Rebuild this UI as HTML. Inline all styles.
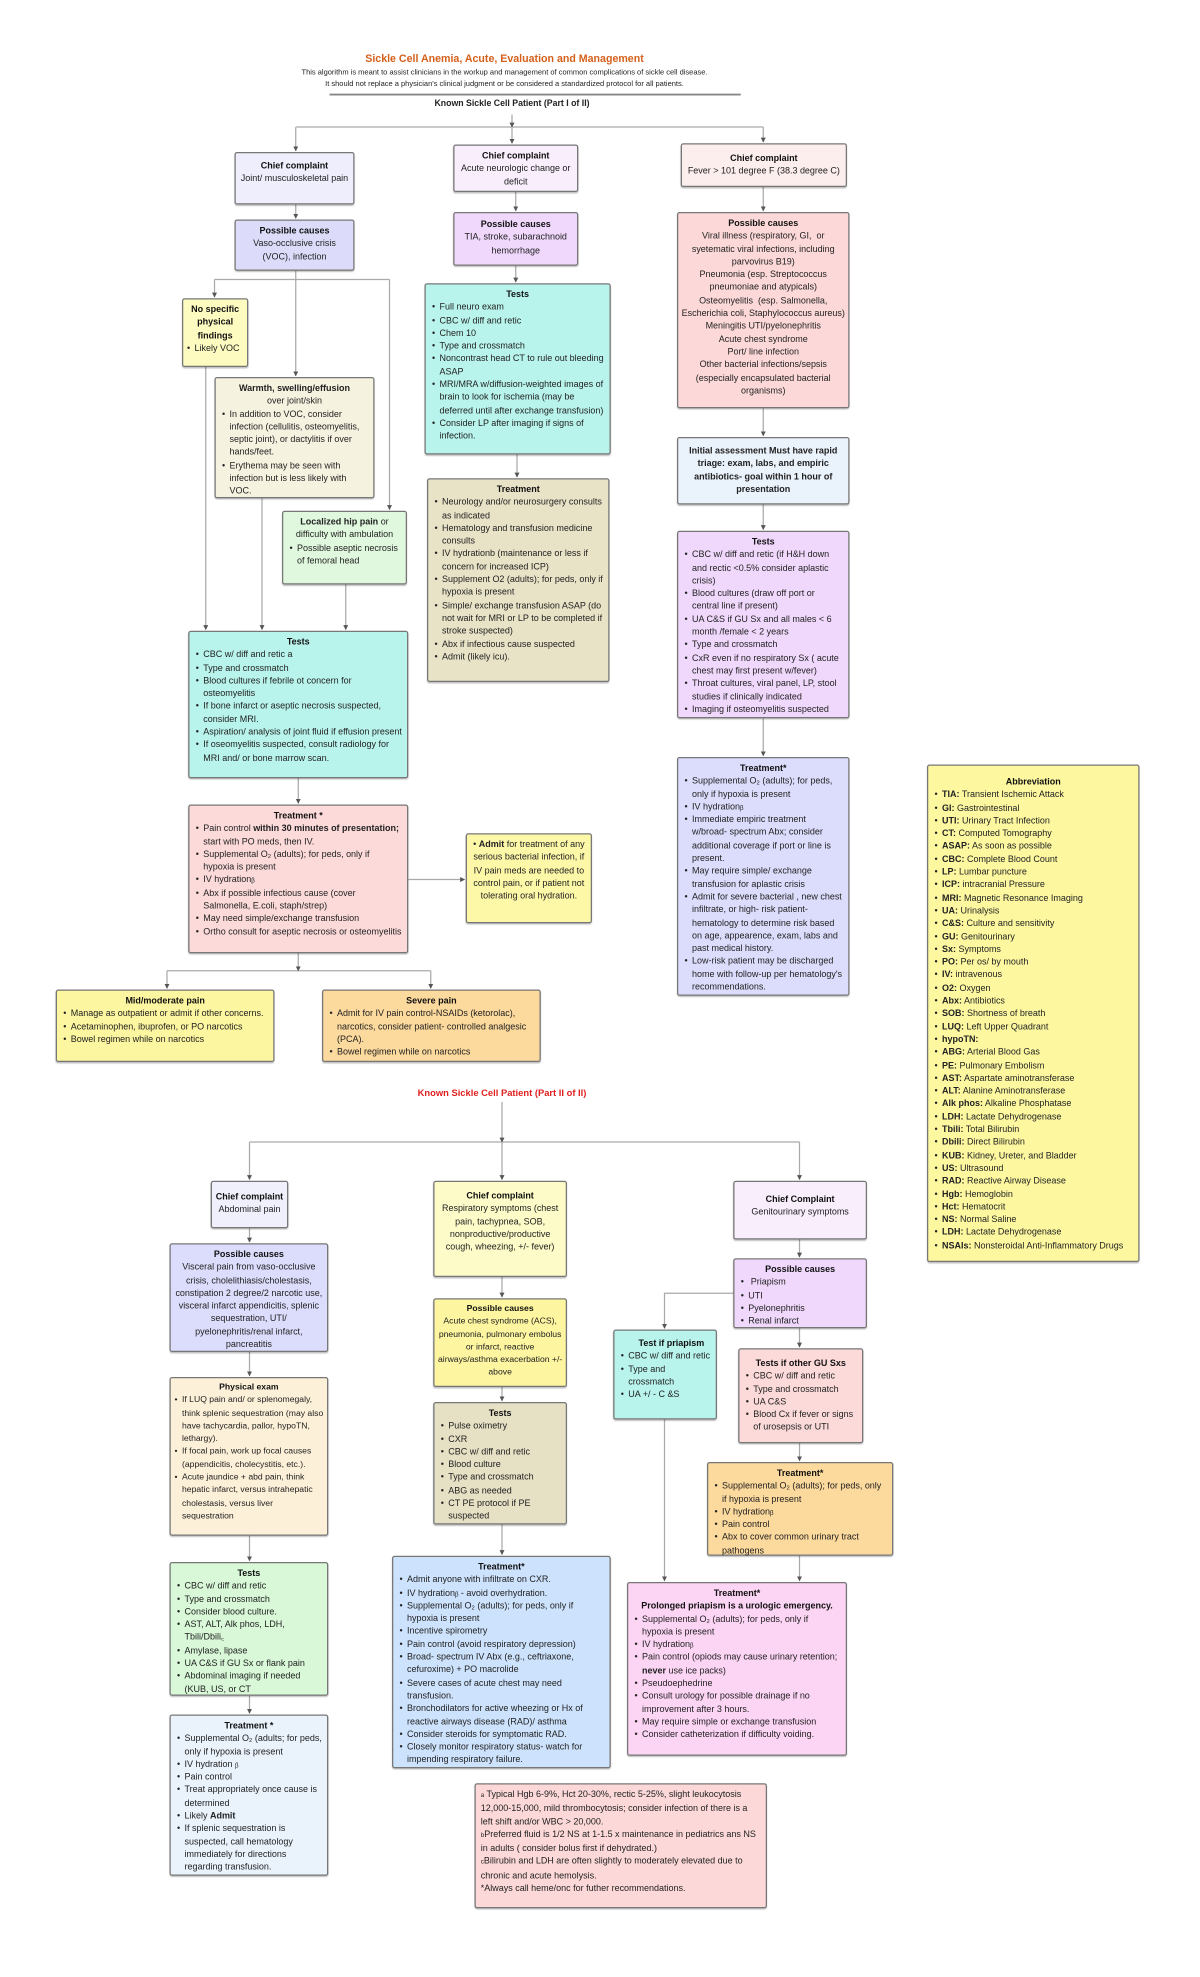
<!DOCTYPE html>
<html><head><meta charset="utf-8"><style>
*{margin:0;padding:0;box-sizing:border-box}
html,body{width:1200px;height:1974px;background:#fff;overflow:hidden}
#w{position:absolute;left:2px;top:2px;width:960px;height:1580px;transform:scale(1.25);transform-origin:0 0;font-family:"Liberation Sans",sans-serif;font-size:7.2px;line-height:10.3px;color:#222}
.b{position:absolute;border:1px solid #777;border-radius:2px;padding:3px 4px;box-shadow:0 1px 1px rgba(0,0,0,.25)}
.c{text-align:center}
.h{font-weight:bold;text-align:center;color:#111}
ul{list-style:none}
li{padding-left:7px;position:relative}
li:before{content:"•";position:absolute;left:1px}
svg{position:absolute;left:0;top:0}
.t{position:absolute;text-align:center}
</style></head><body><div id="w">
<svg width="960" height="1580" fill="none" stroke="#aaa" stroke-width="1">
<defs><marker id="a" markerWidth="4" markerHeight="4" refX="3.5" refY="2" orient="auto"><path d="M0,0L4,2L0,4z" fill="#555" stroke="none"/></marker></defs>
<path d="M235,100H609"/><path d="M170,222H310"/><path d="M198,912H638"/><path d="M132,775H343"/>
<g marker-end="url(#a)">
<path d="M408,90V100"/>
<path d="M235,100V119"/><path d="M408,100V113"/><path d="M609,100V112"/>
<path d="M235,162V173"/><path d="M411,152V167"/><path d="M411,211V224"/><path d="M412,362V380"/>
<path d="M609,148V167"/><path d="M609,325V347"/><path d="M609,402V422"/><path d="M609,573V603"/>
<path d="M235,215V299"/>
<path d="M170,222V236"/><path d="M310,222V406"/>
<path d="M163,292V502"/><path d="M208,397V502"/><path d="M275,466V502"/>
<path d="M237,621V641"/>
<path d="M325,702H370"/>
<path d="M237,761V775"/><path d="M132,775V789"/><path d="M343,775V789"/>
<path d="M400,880V912"/>
<path d="M198,912V942"/><path d="M400,912V942"/><path d="M638,912V942"/>
<path d="M198,981V992"/><path d="M198,1080V1099"/><path d="M198,1227V1247"/><path d="M198,1355V1369"/>
<path d="M400,1020V1036"/><path d="M400,1108V1119"/><path d="M400,1218V1242"/>
<path d="M638,990V1004"/><path d="M638,1061V1076"/><path d="M638,1153V1167"/><path d="M638,1243V1263"/>
<path d="M585,1033H530V1061"/><path d="M530,1134V1263"/>
</g>
<path d="M262,74H591" stroke="#888" stroke-width="1.5"/>
</svg>
<div class="t" style="left:200px;top:40px;width:404px;color:#d5601c;font-weight:bold;font-size:8.5px">Sickle Cell Anemia, Acute, Evaluation and Management</div>
<div class="t" style="left:200px;top:53px;width:404px;font-size:6px;line-height:9px">This algorithm is meant to assist clinicians in the workup and management of common complications of sickle cell disease.<br>It should not replace a physician's clinical judgment or be considered a standardized protocol for all patients.</div>
<div class="t" style="left:300px;top:77px;width:216px;font-weight:bold;font-size:7px">Known Sickle Cell Patient (Part I of II)</div>

<div class="b c" style="left:186px;top:120px;width:96px;height:42px;background:#eeeefc;padding-top:5px"><div class="h">Chief complaint</div>Joint/ musculoskeletal pain</div>
<div class="b c" style="left:186px;top:174px;width:96px;height:41px;background:#dcdcfa"><div class="h">Possible causes</div>Vaso-occlusive crisis (VOC), infection</div>
<div class="b" style="left:144px;top:237px;width:53px;height:55px;background:#fdfbc0;padding:3px 2px"><div class="h">No specific physical findings</div><ul><li>Likely VOC</li></ul></div>
<div class="b" style="left:170px;top:300px;width:128px;height:97px;background:#f6f2e0"><div class="c"><b>Warmth, swelling/effusion</b><br>over joint/skin</div><ul><li>In addition to VOC, consider infection (cellulitis, osteomyelitis, septic joint), or dactylitis if over hands/feet.</li><li>Erythema may be seen with infection but is less likely with VOC.</li></ul></div>
<div class="b" style="left:224px;top:407px;width:100px;height:59px;background:#e0f8de"><div class="c"><b>Localized hip pain</b> or difficulty with ambulation</div><ul><li>Possible aseptic necrosis of femoral head</li></ul></div>
<div class="b" style="left:149px;top:503px;width:176px;height:118px;background:#b8f4ec"><div class="h">Tests</div><ul><li>CBC w/ diff and retic a</li><li>Type and crossmatch</li><li>Blood cultures if febrile ot concern for osteomyelitis</li><li>If bone infarct or aseptic necrosis suspected, consider MRI.</li><li>Aspiration/ analysis of joint fluid if effusion present</li><li>If oseomyelitis suspected, consult radiology for MRI and/ or bone marrow scan.</li></ul></div>
<div class="b" style="left:149px;top:642px;width:176px;height:119px;background:#fcdada"><div class="h">Treatment *</div><ul><li>Pain control <b>within 30 minutes of presentation;</b> start with PO meds, then IV.</li><li>Supplemental O₂ (adults); for peds, only if hypoxia is present</li><li>IV hydrationᵦ</li><li>Abx if possible infectious cause (cover Salmonella, E.coli, staph/strep)</li><li>May need simple/exchange transfusion</li><li>Ortho consult for aseptic necrosis or osteomyelitis</li></ul></div>
<div class="b c" style="left:371px;top:665px;width:101px;height:72px;background:#fdf8a8">• <b>Admit</b> for treatment of any serious bacterial infection, if IV pain meds are needed to control pain, or if patient not tolerating oral hydration.</div>
<div class="b" style="left:43px;top:790px;width:175px;height:58px;background:#fdf6a0"><div class="h">Mid/moderate pain</div><ul><li>Manage as outpatient or admit if other concerns.</li><li>Acetaminophen, ibuprofen, or PO narcotics</li><li>Bowel regimen while on narcotics</li></ul></div>
<div class="b" style="left:256px;top:790px;width:175px;height:58px;background:#fcd99c"><div class="h">Severe pain</div><ul><li>Admit for IV pain control-NSAIDs (ketorolac), narcotics, consider patient- controlled analgesic (PCA).</li><li>Bowel regimen while on narcotics</li></ul></div>

<div class="b c" style="left:361px;top:114px;width:100px;height:38px;background:#f8eefc;padding-top:3px"><div class="h">Chief complaint</div>Acute neurologic change or deficit</div>
<div class="b c" style="left:361px;top:168px;width:100px;height:43px;background:#f0d8fc;padding-top:4px"><div class="h">Possible causes</div>TIA, stroke, subarachnoid hemorrhage</div>
<div class="b" style="left:338px;top:225px;width:149px;height:137px;background:#b8f4ec"><div class="h">Tests</div><ul><li>Full neuro exam</li><li>CBC w/ diff and retic</li><li>Chem 10</li><li>Type and crossmatch</li><li>Noncontrast head CT to rule out bleeding ASAP</li><li>MRI/MRA w/diffusion-weighted images of brain to look for ischemia (may be deferred until after exchange transfusion)</li><li>Consider LP after imaging if signs of infection.</li></ul></div>
<div class="b" style="left:340px;top:381px;width:146px;height:163px;background:#e8e2c6"><div class="h">Treatment</div><ul><li>Neurology and/or neurosurgery consults as indicated</li><li>Hematology and transfusion medicine consults</li><li>IV hydrationb (maintenance or less if concern for increased ICP)</li><li>Supplement O2 (adults); for peds, only if hypoxia is present</li><li>Simple/ exchange transfusion ASAP (do not wait for MRI or LP to be completed if stroke suspected)</li><li>Abx if infectious cause suspected</li><li>Admit (likely icu).</li></ul></div>

<div class="b c" style="left:543px;top:113px;width:133px;height:35px;background:#fdeeee;padding:6px 1px 0;white-space:nowrap"><div class="h">Chief complaint</div>Fever &gt; 101 degree F (38.3 degree C)</div>
<div class="b c" style="left:540px;top:168px;width:138px;height:157px;background:#fcd8d8;padding:3px 2px"><div class="h">Possible causes</div>Viral illness (respiratory, GI,&nbsp; or syetematic viral infections, including parvovirus B19)<br>Pneumonia (esp. Streptococcus pneumoniae and atypicals)<br>Osteomyelitis&nbsp; (esp. Salmonella, Escherichia coli, Staphylococcus aureus)<br>Meningitis UTI/pyelonephritis<br>Acute chest syndrome<br>Port/ line infection<br>Other bacterial infections/sepsis (especially encapsulated bacterial organisms)</div>
<div class="b c" style="left:540px;top:348px;width:138px;height:54px;background:#eaf2fc;font-weight:bold;padding-top:5px">Initial assessment Must have rapid triage: exam, labs, and empiric antibiotics- goal within 1 hour of presentation</div>
<div class="b" style="left:540px;top:423px;width:138px;height:150px;background:#f0d8fc"><div class="h">Tests</div><ul><li>CBC w/ diff and retic (if H&amp;H down and rectic &lt;0.5% consider aplastic crisis)</li><li>Blood cultures (draw off port or central line if present)</li><li>UA C&amp;S if GU Sx and all males &lt; 6 month /female &lt; 2 years</li><li>Type and crossmatch</li><li>CxR even if no respiratory Sx ( acute chest may first present w/fever)</li><li>Throat cultures, viral panel, LP, stool studies if clinically indicated</li><li>Imaging if osteomyelitis suspected</li></ul></div>
<div class="b" style="left:540px;top:604px;width:138px;height:191px;background:#dcdcfc"><div class="h">Treatment*</div><ul><li>Supplemental O₂ (adults); for peds, only if hypoxia is present</li><li>IV hydrationᵦ</li><li>Immediate empiric treatment w/broad- spectrum Abx; consider additional coverage if port or line is present.</li><li>May require simple/ exchange transfusion for aplastic crisis</li><li>Admit for severe bacterial , new chest infiltrate, or high- risk patient- hematology to determine risk based on age, appearence, exam, labs and past medical history.</li><li>Low-risk patient may be discharged home with follow-up per hematology's recommendations.</li></ul></div>

<div class="b" style="left:740px;top:610px;width:170px;height:398px;background:#fdf8a0;padding-top:8px;font-size:7.2px"><div class="h">Abbreviation</div><ul>
<li><b>TIA:</b> Transient Ischemic Attack</li><li><b>GI:</b> Gastrointestinal</li><li><b>UTI:</b> Urinary Tract Infection</li><li><b>CT:</b> Computed Tomography</li><li><b>ASAP:</b> As soon as possible</li><li><b>CBC:</b> Complete Blood Count</li><li><b>LP:</b> Lumbar puncture</li><li><b>ICP:</b> intracranial Pressure</li><li><b>MRI:</b> Magnetic Resonance Imaging</li><li><b>UA:</b> Urinalysis</li><li><b>C&amp;S:</b> Culture and sensitivity</li><li><b>GU:</b> Genitourinary</li><li><b>Sx:</b> Symptoms</li><li><b>PO:</b> Per os/ by mouth</li><li><b>IV:</b> intravenous</li><li><b>O2:</b> Oxygen</li><li><b>Abx:</b> Antibiotics</li><li><b>SOB:</b> Shortness of breath</li><li><b>LUQ:</b> Left Upper Quadrant</li><li><b>hypoTN:</b></li><li><b>ABG:</b> Arterial Blood Gas</li><li><b>PE:</b> Pulmonary Embolism</li><li><b>AST:</b> Aspartate aminotransferase</li><li><b>ALT:</b> Alanine Aminotransferase</li><li><b>Alk phos:</b> Alkaline Phosphatase</li><li><b>LDH:</b> Lactate Dehydrogenase</li><li><b>Tbili:</b> Total Bilirubin</li><li><b>Dbili:</b> Direct Bilirubin</li><li><b>KUB:</b> Kidney, Ureter, and Bladder</li><li><b>US:</b> Ultrasound</li><li><b>RAD:</b> Reactive Airway Disease</li><li><b>Hgb:</b> Hemoglobin</li><li><b>Hct:</b> Hematocrit</li><li><b>NS:</b> Normal Saline</li><li><b>LDH:</b> Lactate Dehydrogenase</li><li><b>NSAIs:</b> Nonsteroidal Anti-Inflammatory Drugs</li></ul></div>

<div class="t" style="left:280px;top:868px;width:240px;color:#e02020;font-weight:bold;font-size:7.5px">Known Sickle Cell Patient (Part II of II)</div>

<div class="b c" style="left:167px;top:943px;width:62px;height:38px;background:#f0f0fc;padding:7px 1px 0"><div class="h" style="white-space:nowrap">Chief complaint</div><span style="white-space:nowrap">Abdominal pain</span></div>
<div class="b c" style="left:134px;top:993px;width:127px;height:87px;background:#dcdcfc;padding:3px 2px"><div class="h">Possible causes</div>Visceral pain from vaso-occlusive crisis, cholelithiasis/cholestasis, constipation 2 degree/2 narcotic use, visceral infarct appendicitis, splenic sequestration, UTI/ pyelonephritis/renal infarct, pancreatitis</div>
<div class="b" style="left:134px;top:1100px;width:127px;height:127px;background:#fdf0d8;padding:3px 2px;font-size:6.9px"><div class="h">Physical exam</div><ul><li>If LUQ pain and/ or splenomegaly, think splenic sequestration (may also have tachycardia, pallor, hypoTN, lethargy).</li><li>If focal pain, work up focal causes (appendicitis, cholecystitis, etc.).</li><li>Acute jaundice + abd pain, think hepatic infarct, versus intrahepatic cholestasis, versus liver sequestration</li></ul></div>
<div class="b" style="left:134px;top:1248px;width:127px;height:107px;background:#d8f8d8"><div class="h">Tests</div><ul><li>CBC w/ diff and retic</li><li>Type and crossmatch</li><li>Consider blood culture.</li><li>AST, ALT, Alk phos, LDH, Tbili/Dbili꜀</li><li>Amylase, lipase</li><li>UA C&amp;S if GU Sx or flank pain</li><li>Abdominal imaging if needed (KUB, US, or CT</li></ul></div>
<div class="b" style="left:134px;top:1370px;width:127px;height:129px;background:#eaf2fc"><div class="h">Treatment *</div><ul><li>Supplemental O₂ (adults; for peds, only if hypoxia is present</li><li>IV hydration ᵦ</li><li>Pain control</li><li>Treat appropriately once cause is determined</li><li>Likely <b>Admit</b></li><li>If splenic sequestration is suspected, call hematology immediately for directions regarding transfusion.</li></ul></div>

<div class="b c" style="left:345px;top:943px;width:107px;height:77px;background:#fdfbc8;padding:6px 2px 0"><div class="h">Chief complaint</div>Respiratory symptoms (chest pain, tachypnea, SOB, nonproductive/productive cough, wheezing, +/- fever)</div>
<div class="b c" style="left:345px;top:1037px;width:107px;height:71px;background:#fdf5a0;padding:3px 1px;font-size:6.9px"><div class="h">Possible causes</div>Acute chest syndrome (ACS), pneumonia, pulmonary embolus or infarct, reactive airways/asthma exacerbation +/- above</div>
<div class="b" style="left:345px;top:1120px;width:107px;height:98px;background:#e6e0c4"><div class="h">Tests</div><ul><li>Pulse oximetry</li><li>CXR</li><li>CBC w/ diff and retic</li><li>Blood culture</li><li>Type and crossmatch</li><li>ABG as needed</li><li>CT PE protocol if PE suspected</li></ul></div>
<div class="b" style="left:312px;top:1243px;width:175px;height:170px;background:#cde2fc"><div class="h">Treatment*</div><ul><li>Admit anyone with infiltrate on CXR.</li><li>IV hydrationᵦ - avoid overhydration.</li><li>Supplemental O₂ (adults); for peds, only if hypoxia is present</li><li>Incentive spirometry</li><li>Pain control (avoid respiratory depression)</li><li>Broad- spectrum IV Abx (e.g., ceftriaxone, cefuroxime) + PO macrolide</li><li>Severe cases of acute chest may need transfusion.</li><li>Bronchodilators for active wheezing or Hx of reactive airways disease (RAD)/ asthma</li><li>Consider steroids for symptomatic RAD.</li><li>Closely monitor respiratory status- watch for impending respiratory failure.</li></ul></div>

<div class="b c" style="left:585px;top:943px;width:107px;height:47px;background:#f8eefc;padding-top:9px"><div class="h">Chief Complaint</div>Genitourinary symptoms</div>
<div class="b" style="left:585px;top:1005px;width:107px;height:56px;background:#f0d8fc"><div class="h">Possible causes</div><ul><li>&nbsp;Priapism</li><li>UTI</li><li>Pyelonephritis</li><li>Renal infarct</li></ul></div>
<div class="b" style="left:489px;top:1062px;width:83px;height:72px;background:#b8f4ec;padding-top:5px"><div class="h" style="padding-left:10px">Test if priapism</div><ul><li>CBC w/ diff and retic</li><li>Type and crossmatch</li><li>UA +/ - C &amp;S</li></ul></div>
<div class="b" style="left:589px;top:1077px;width:100px;height:76px;background:#fcdada;padding-top:6px"><div class="h">Tests if other GU Sxs</div><ul><li>CBC w/ diff and retic</li><li>Type and crossmatch</li><li>UA C&amp;S</li><li>Blood Cx if fever or signs of urosepsis or UTI</li></ul></div>
<div class="b" style="left:564px;top:1168px;width:149px;height:75px;background:#fcd99c"><div class="h">Treatment*</div><ul><li>Supplemental O₂ (adults); for peds, only if hypoxia is present</li><li>IV hydrationᵦ</li><li>Pain control</li><li>Abx to cover common urinary tract pathogens</li></ul></div>
<div class="b" style="left:500px;top:1264px;width:176px;height:139px;background:#fcd4f4"><div class="h">Treatment*<br>Prolonged priapism is a urologic emergency.</div><ul><li>Supplemental O₂ (adults); for peds, only if hypoxia is present</li><li>IV hydrationᵦ</li><li>Pain control (opiods may cause urinary retention; <b>never</b> use ice packs)</li><li>Pseudoephedrine</li><li>Consult urology for possible drainage if no improvement after 3 hours.</li><li>May require simple or exchange transfusion</li><li>Consider catheterization if difficulty voiding.</li></ul></div>

<div class="b" style="left:378px;top:1425px;width:234px;height:100px;background:#fcd8d8;padding-top:3px"><span style="font-size:5px">a</span> Typical Hgb 6-9%, Hct 20-30%, rectic 5-25%, slight leukocytosis 12,000-15,000, mild thrombocytosis; consider infection of there is a left shift and/or WBC &gt; 20,000.<br><span style="font-size:5px">b</span>Preferred fluid is 1/2 NS at 1-1.5 x maintenance in pediatrics ans NS in adults ( consider bolus first if dehydrated.)<br><span style="font-size:5px">c</span>Bilirubin and LDH are often slightly to moderately elevated due to chronic and acute hemolysis.<br>*Always call heme/onc for futher recommendations.</div>
</div></body></html>
